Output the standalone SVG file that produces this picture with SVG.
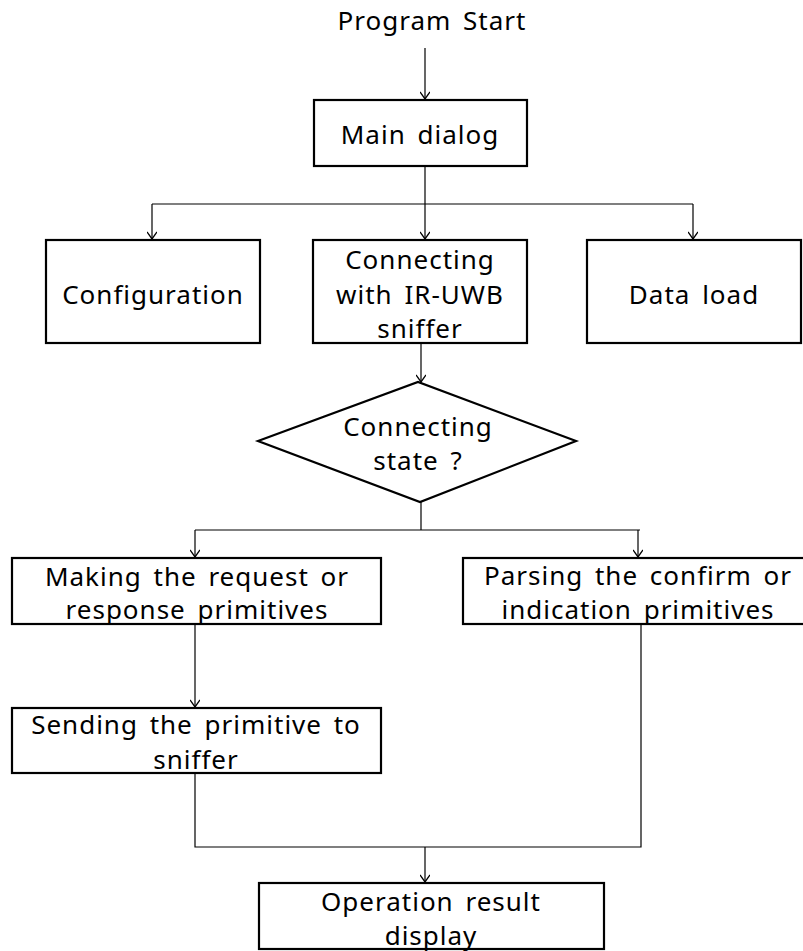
<svg xmlns="http://www.w3.org/2000/svg" width="803" height="951" viewBox="0 0 803 951">
<style>
.box{fill:#fff;stroke:#000;stroke-width:2.2}
.t{font-family:"Noto Sans","Open Sans",sans-serif;font-size:26px;letter-spacing:1px;word-spacing:4px;fill:#000;text-anchor:middle}
.c{fill:none;stroke:#000;stroke-width:1.2}
</style>
<defs>
<marker id="ah" markerWidth="10" markerHeight="10" refX="9" refY="5" orient="auto" markerUnits="userSpaceOnUse" viewBox="0 0 10 10">
<path d="M2,0 L9,5 L2,10" fill="none" stroke="#000" stroke-width="1.3"/>
</marker>
</defs>
<rect width="803" height="951" fill="#fff"/>
<g id="connectors">
<path class="c" d="M425,48 V99" marker-end="url(#ah)"/>
<path class="c" d="M425,166 V204"/>
<path class="c" d="M152,204 H693"/>
<path class="c" d="M152,204 V239" marker-end="url(#ah)"/>
<path class="c" d="M425,204 V239" marker-end="url(#ah)"/>
<path class="c" d="M693,204 V239" marker-end="url(#ah)"/>
<path class="c" d="M421,343 V382" marker-end="url(#ah)"/>
<path class="c" d="M421,502 V530"/>
<path class="c" d="M195,530 H640"/>
<path class="c" d="M195,530 V557" marker-end="url(#ah)"/>
<path class="c" d="M638,530 V557" marker-end="url(#ah)"/>
<path class="c" d="M195,624 V707" marker-end="url(#ah)"/>
<path class="c" d="M195,773 V847 H641 V624"/>
<path class="c" d="M425,847 V882" marker-end="url(#ah)"/>
</g>
<g id="start"><text class="t" x="432" y="30">Program Start</text></g>
<g id="main"><rect class="box" x="314" y="100" width="213" height="66"/><text class="t" x="420" y="144">Main dialog</text></g>
<g id="config"><rect class="box" x="46" y="240" width="214" height="103"/><text class="t" x="153" y="304">Configuration</text></g>
<g id="connect"><rect class="box" x="313" y="240" width="214" height="103"/><text class="t" x="420" y="269">Connecting</text><text class="t" x="420" y="304">with IR-UWB</text><text class="t" x="420" y="338">sniffer</text></g>
<g id="dataload"><rect class="box" x="587" y="240" width="214" height="103"/><text class="t" x="694" y="304">Data load</text></g>
<g id="decision"><polygon class="box" points="258,441 418,382 576,441 420,502"/><text class="t" x="418" y="436">Connecting</text><text class="t" x="418" y="470">state ?</text></g>
<g id="making"><rect class="box" x="12" y="558" width="369" height="66"/><text class="t" x="197" y="586">Making the request or</text><text class="t" x="197" y="619">response primitives</text></g>
<g id="parsing"><rect class="box" x="463" y="558" width="345" height="66"/><text class="t" x="638" y="585">Parsing the confirm or</text><text class="t" x="638" y="619">indication primitives</text></g>
<g id="sending"><rect class="box" x="12" y="708" width="369" height="65"/><text class="t" x="196" y="734">Sending the primitive to</text><text class="t" x="196" y="769">sniffer</text></g>
<g id="result"><rect class="box" x="259" y="883" width="345" height="66"/><text class="t" x="431" y="911">Operation result</text><text class="t" x="431" y="945">display</text></g>
</svg>
